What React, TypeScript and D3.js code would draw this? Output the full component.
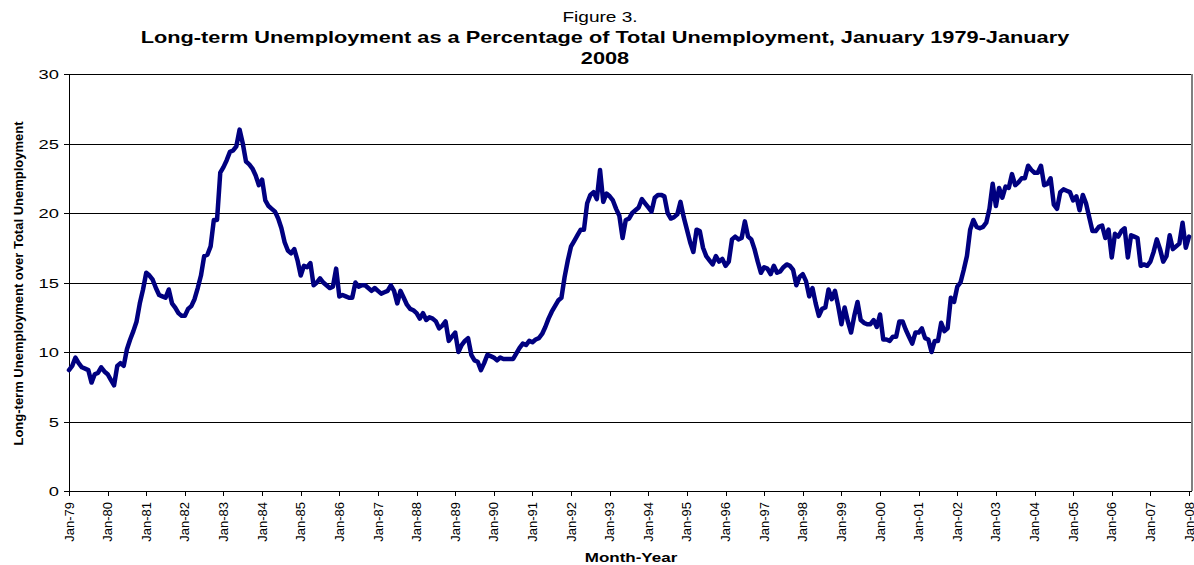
import React from "react";
import * as d3 from "d3";

// Long-term unemployment as % of total unemployment, monthly, Jan 1979 - Jan 2008
const y1979 = [8.7, 9.0, 9.6, 9.2, 8.9, 8.8, 8.7, 7.8, 8.4, 8.5, 8.9, 8.6];
const y1980 = [8.4, 8.0, 7.6, 9.0, 9.2, 9.0, 10.2, 10.9, 11.5, 12.2, 13.5, 14.5];
const y1981 = [15.7, 15.5, 15.2, 14.6, 14.1, 14.0, 13.9, 14.5, 13.5, 13.2, 12.8, 12.6];
const y1982 = [12.6, 13.1, 13.3, 13.8, 14.6, 15.5, 16.9, 17.0, 17.6, 19.5, 19.5, 22.9];
const y1983 = [23.3, 23.8, 24.4, 24.5, 24.8, 26.0, 25.0, 23.7, 23.5, 23.2, 22.7, 22.0];
const y1984 = [22.4, 20.9, 20.5, 20.3, 20.1, 19.6, 18.9, 17.9, 17.3, 17.1, 17.4, 16.6];
const y1985 = [15.5, 16.2, 16.1, 16.4, 14.8, 15.0, 15.3, 15.0, 14.8, 14.6, 14.7, 16.0];
const y1986 = [14.0, 14.1, 14.0, 13.9, 13.9, 15.0, 14.7, 14.8, 14.8, 14.6, 14.4, 14.6];
const y1987 = [14.4, 14.2, 14.3, 14.4, 14.8, 14.4, 13.5, 14.4, 13.9, 13.4, 13.1, 13.0];
const y1988 = [12.8, 12.4, 12.8, 12.3, 12.5, 12.4, 12.2, 11.7, 11.9, 12.2, 10.8, 11.1];
const y1989 = [11.4, 10.0, 10.5, 10.8, 11.0, 9.8, 9.4, 9.3, 8.7, 9.2, 9.8, 9.7];
const y1990 = [9.6, 9.4, 9.6, 9.5, 9.5, 9.5, 9.5, 9.9, 10.3, 10.6, 10.5, 10.8];
const y1991 = [10.7, 10.9, 11.0, 11.3, 11.8, 12.4, 12.9, 13.3, 13.7, 13.9, 15.4, 16.6];
const y1992 = [17.6, 18.0, 18.4, 18.8, 18.8, 20.7, 21.3, 21.5, 21.0, 23.1, 20.8, 21.4];
const y1993 = [21.2, 20.9, 20.3, 19.8, 18.2, 19.5, 19.6, 20.0, 20.2, 20.4, 21.0, 20.7];
const y1994 = [20.4, 20.1, 21.1, 21.3, 21.3, 21.2, 20.0, 19.6, 19.7, 19.9, 20.8, 19.7];
const y1995 = [18.8, 17.9, 17.2, 18.8, 18.7, 17.5, 16.9, 16.6, 16.3, 16.9, 16.5, 16.7];
const y1996 = [16.2, 16.5, 18.1, 18.3, 18.1, 18.2, 19.4, 18.3, 18.1, 17.4, 16.5, 15.7];
const y1997 = [16.1, 16.0, 15.6, 16.2, 15.7, 15.8, 16.1, 16.3, 16.2, 15.9, 14.8, 15.4];
const y1998 = [15.6, 15.1, 14.0, 14.6, 13.5, 12.6, 13.1, 13.2, 14.5, 13.8, 14.4, 13.3];
const y1999 = [12.0, 13.2, 12.2, 11.4, 12.6, 13.6, 12.3, 12.1, 12.0, 12.0, 12.3, 11.8];
const y2000 = [12.7, 10.9, 10.9, 10.8, 11.1, 11.1, 12.2, 12.2, 11.6, 11.1, 10.6, 11.4];
const y2001 = [11.4, 11.7, 11.0, 10.9, 10.0, 10.8, 10.8, 12.1, 11.5, 11.7, 13.9, 13.6];
const y2002 = [14.7, 15.0, 15.9, 16.9, 18.8, 19.5, 19.0, 18.9, 19.0, 19.3, 20.3, 22.1];
const y2003 = [20.5, 21.8, 21.1, 21.9, 21.8, 22.8, 22.0, 22.2, 22.5, 22.5, 23.4, 23.1];
const y2004 = [22.9, 22.9, 23.4, 22.0, 22.1, 22.5, 20.6, 20.3, 21.5, 21.7, 21.6, 21.5];
const y2005 = [20.9, 21.2, 20.2, 21.3, 20.7, 19.7, 18.7, 18.7, 19.0, 19.1, 18.2, 18.8];
const y2006 = [16.8, 18.5, 18.3, 18.7, 18.9, 16.8, 18.4, 18.3, 18.2, 16.2, 16.3, 16.2];
const y2007 = [16.5, 17.2, 18.1, 17.4, 16.5, 16.9, 18.4, 17.4, 17.6, 17.8, 19.3, 17.5];
const y2008 = [18.3];

const values: number[] = [
  ...y1979, ...y1980, ...y1981, ...y1982, ...y1983, ...y1984, ...y1985, ...y1986,
  ...y1987, ...y1988, ...y1989, ...y1990, ...y1991, ...y1992, ...y1993, ...y1994,
  ...y1995, ...y1996, ...y1997, ...y1998, ...y1999, ...y2000, ...y2001, ...y2002,
  ...y2003, ...y2004, ...y2005, ...y2006, ...y2007, ...y2008,
];

const xTickLabels = [
  "Jan-79", "Jan-80", "Jan-81", "Jan-82", "Jan-83", "Jan-84", "Jan-85", "Jan-86",
  "Jan-87", "Jan-88", "Jan-89", "Jan-90", "Jan-91", "Jan-92", "Jan-93", "Jan-94",
  "Jan-95", "Jan-96", "Jan-97", "Jan-98", "Jan-99", "Jan-00", "Jan-01", "Jan-02",
  "Jan-03", "Jan-04", "Jan-05", "Jan-06", "Jan-07", "Jan-08",
];
const yTicks = [0, 5, 10, 15, 20, 25, 30];

const titleLine0 = "Figure 3.";
const titleLine1 = "Long-term Unemployment as a Percentage of Total Unemployment, January 1979-January";
const titleLine2 = "2008";
const yAxisTitle = "Long-term Unemployment over Total Unemployment";
const xAxisTitle = "Month-Year";

const W = 1194;
const H = 565;
const left = 69;
const right = 1189;
const frameRight = 1192;
const top = 74;
const bottom = 491;
const SX = 1.36; // horizontal text stretch

const font = "Arial, 'Liberation Sans', Helvetica, sans-serif";

function Stretched({ x, y, anchor, size, weight, children }: any) {
  return (
    <g transform={`translate(${x},${y}) scale(${SX},1)`}>
      <text x={0} y={0} textAnchor={anchor} fontSize={size} fontWeight={weight} fontFamily={font} fill="#000">
        {children}
      </text>
    </g>
  );
}

export default function App() {
  const x = d3.scaleLinear().domain([0, values.length - 1]).range([left, right]);
  const y = d3.scaleLinear().domain([0, 30]).range([bottom, top]);
  const line = d3
    .line<number>()
    .x((_, i) => x(i))
    .y((d) => y(d));

  const cx = 605;

  return (
    <svg
      width={W}
      height={H}
      viewBox={`0 0 ${W} ${H}`}
      style={{ position: "absolute", left: 0, top: 0, background: "#fff" }}
    >
      <rect x={0} y={0} width={W} height={H} fill="#fff" />
      {/* titles */}
      <Stretched x={cx - 5} y={22} anchor="middle" size={14} weight="normal">{titleLine0}</Stretched>
      <Stretched x={cx} y={43} anchor="middle" size={16} weight="bold">{titleLine1}</Stretched>
      <Stretched x={cx} y={64} anchor="middle" size={16} weight="bold">{titleLine2}</Stretched>

      {/* gridlines */}
      <g shapeRendering="crispEdges">
        {yTicks.filter((t) => t > 0).map((t) => (
          <line key={t} x1={left} x2={frameRight} y1={Math.round(y(t)) + 0.5} y2={Math.round(y(t)) + 0.5} stroke="#000" strokeWidth={1} />
        ))}
        {/* right frame */}
        <line x1={frameRight - 0.5} x2={frameRight - 0.5} y1={top} y2={bottom} stroke="#808080" strokeWidth={2} />
        {/* axes */}
        <line x1={left + 0.5} x2={left + 0.5} y1={top} y2={bottom + 1} stroke="#000" strokeWidth={1} />
        <line x1={left - 5} x2={frameRight} y1={bottom + 0.5} y2={bottom + 0.5} stroke="#000" strokeWidth={1} />
        {yTicks.map((t) => (
          <line key={"yt" + t} x1={left - 5} x2={left} y1={Math.round(y(t)) + 0.5} y2={Math.round(y(t)) + 0.5} stroke="#000" />
        ))}
        {xTickLabels.map((_, i) => (
          <line key={"xt" + i} x1={Math.round(x(i * 12)) + 0.5} x2={Math.round(x(i * 12)) + 0.5} y1={bottom} y2={bottom + 5} stroke="#000" />
        ))}
      </g>

      {/* y tick labels */}
      {yTicks.map((t) => (
        <Stretched key={"yl" + t} x={59} y={y(t) + 5} anchor="end" size={13.5} weight="normal">{t}</Stretched>
      ))}

      {/* x tick labels */}
      {xTickLabels.map((lab, i) => (
        <text
          key={"xl" + i}
          transform={`translate(${x(i * 12)},${bottom + 11}) rotate(-90)`}
          textAnchor="end"
          dy="0.35em"
          fontSize={13}
          fontFamily={font}
          fill="#000"
        >
          {lab}
        </text>
      ))}

      {/* axis titles */}
      <text
        transform={`translate(23,${(top + bottom) / 2 + 1}) rotate(-90)`}
        textAnchor="middle"
        fontSize={13}
        fontWeight="bold"
        fontFamily={font}
        fill="#000"
      >
        {yAxisTitle}
      </text>
      <Stretched x={631} y={562} anchor="middle" size={12.5} weight="bold">{xAxisTitle}</Stretched>

      {/* data line */}
      <path d={line(values) || ""} fill="none" stroke="#000080" strokeWidth={4.5} strokeLinejoin="round" strokeLinecap="round" />
    </svg>
  );
}
